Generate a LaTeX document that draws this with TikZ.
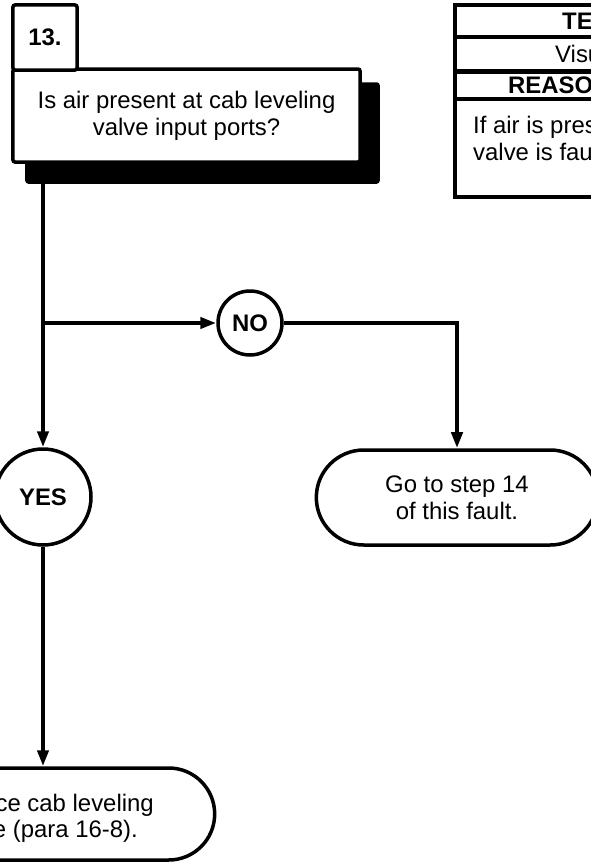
\documentclass[tikz,border=0pt]{standalone}
\usepackage{fontspec}
\setmainfont{Liberation Sans}
\usetikzlibrary{arrows.meta,positioning,calc,backgrounds,shapes.misc}
\newcommand\tsfont{\fontsize{24}{27}\selectfont}
\tikzset{
  frame/.style    ={draw=black,line width=3.5bp,fill=white},
  numbox/.style   ={frame,rounded corners=2bp,minimum width=64bp,minimum height=65bp,
                    font=\tsfont\bfseries},
  qbox/.style     ={frame,rounded corners=2bp,minimum width=347bp,minimum height=93bp,
                    align=center,font=\tsfont},
  answer/.style   ={frame,circle,inner sep=0pt,font=\tsfont\bfseries},
  endbox/.style   ={frame,rounded rectangle,align=center,font=\tsfont},
  flow/.style     ={-{Triangle[length=16bp,width=11bp]},black,line width=4bp},
  rule/.style     ={black,line width=3.5bp},
  tlbl/.style     ={anchor=base west,inner sep=0pt,font=\tsfont},
}
\begin{document}
\begin{tikzpicture}[x=1bp,y=-1bp]
\path[use as bounding box] (0,0) rectangle (591,863);

% step 13 question
\node[qbox] (q) at (186.5,115.5) {Is air present at cab leveling\\valve input ports?};
\node[numbox] (n) at (45,37.5) {13.};
\begin{scope}[on background layer]
  \fill[rounded corners=3bp] ($(q.north west)+(14,15)$) rectangle ($(q.south east)+(18,20)$);
\end{scope}

% test / reason table
\draw[frame] (455,5) rectangle (650,197);
\draw[rule] (455,37) -- (650,37);
\draw[rule,line width=5bp] (455,71) -- (650,71);
\draw[rule] (455,99) -- (650,99);
\node[tlbl,font=\tsfont\bfseries] (ttest) at (562,29) {TE};
\node[tlbl] (tvis) at (555,62) {Visu};
\node[tlbl,font=\tsfont\bfseries] (treason) at (508,93) {REASON};
\node[tlbl] (tif) at (473,133) {If air is pres};
\node[tlbl] (tvalve) at (473,160) {valve is fau};

% answers
\node[answer,minimum size=64bp] (no) at (250,323) {NO};
\node[answer,minimum size=96bp] (yes) at (43,497) {YES};
\node[endbox,minimum width=288bp,minimum height=95bp] (go) at (457,497.5)
  {Go to step 14\\of this fault.};
\node[endbox,minimum width=350bp,minimum height=92bp] (fix) at (43,814) {};
\node[anchor=base east,inner sep=0pt,font=\tsfont] (fix1) at (154,811) {ce cab leveling};
\node[anchor=base east,inner sep=0pt,font=\tsfont] (fix2) at (138,837) {e (para 16-8).};

% connectors
\coordinate (fork) at (43,323);
\draw[flow] (q.south -| fork) -- (yes);
\draw[flow] (fork) -- (no);
\draw[flow] (no) -| (go);
\draw[flow] (yes) -- (fix);
\end{tikzpicture}
\end{document}
